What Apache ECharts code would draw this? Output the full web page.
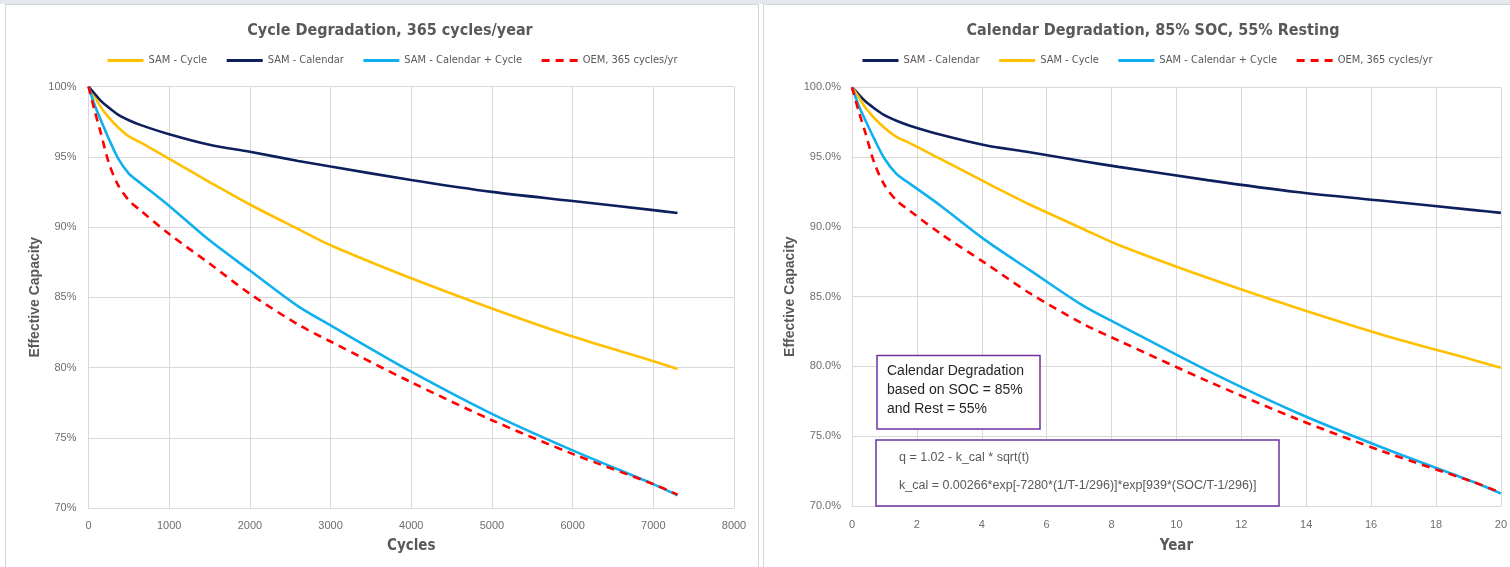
<!DOCTYPE html>
<html>
<head>
<meta charset="utf-8">
<script src="https://cdn.jsdelivr.net/npm/echarts@6/dist/echarts.min.js"></script>
<style>
  html, body { margin: 0; padding: 0; background: #ffffff; }
  #chart { width: 1510px; height: 567px; }
</style>
</head>
<body>
<div id="chart"></div>
<script>
// ---- data ----
const CYCLES_PER_YEAR = 365;
const cycles = [0, 75, 150, 250, 365, 500, 650, 1000, 1500, 2000, 2600, 3000, 4000, 5000, 6000, 7000, 7300];
const samCalendar = [100, 99.5, 99.0, 98.5, 98.0, 97.6, 97.25, 96.6, 95.85, 95.35, 94.7, 94.3, 93.35, 92.5, 91.85, 91.2, 91.0];
const samCycle = [100, 99.3, 98.55, 97.8, 97.1, 96.45, 96.0, 94.85, 93.2, 91.6, 89.85, 88.7, 86.35, 84.2, 82.2, 80.45, 79.9];
const samCalCycle = [100, 98.7, 97.65, 96.3, 94.9, 93.8, 93.1, 91.5, 89.05, 86.9, 84.35, 83.0, 79.7, 76.7, 74.1, 71.7, 70.9];
const oem = [100, 98.3, 96.75, 94.6, 93.0, 91.9, 91.15, 89.5, 87.4, 85.25, 83.05, 81.85, 78.95, 76.25, 73.85, 71.7, 70.95];
const yTicks = { min: 70, max: 100, step: 5 };
const xTicksCycles = { min: 0, max: 8000, step: 1000 };
const xTicksYears = { min: 0, max: 20, step: 2 };

const names = {
  cal: 'SAM - Calendar',
  cyc: 'SAM - Cycle',
  both: 'SAM - Calendar + Cycle',
  oem: 'OEM, 365 cycles/yr'
};
const colors = { cal: '#0d1f5c', cyc: '#ffc000', both: '#10b0ee', oem: '#ff0000' };

const NARROW = '"Liberation Sans Narrow", "Arial Narrow", "DejaVu Sans Condensed", sans-serif';
const SANS = '"Liberation Sans", Arial, sans-serif';

function pairs(xs, ys) { return xs.map((x, i) => [x, ys[i]]); }
const years = cycles.map(c => c / CYCLES_PER_YEAR);

function mkSeries(key, xs, ys, gi) {
  return {
    name: names[key], type: 'line', xAxisIndex: gi, yAxisIndex: gi,
    data: pairs(xs, ys), showSymbol: false, symbol: 'none',
    smooth: 0.3,
    lineStyle: { color: colors[key], width: 2.6, type: key === 'oem' ? [8, 6] : 'solid' },
    itemStyle: { color: colors[key] },
    z: key === 'oem' ? 5 : 3
  };
}

const axisLabelStyle = { color: '#6e6e6e', fontSize: 11, fontFamily: SANS };
const gridLine = { show: true, lineStyle: { color: '#d9d9d9', width: 1 } };
const legendCommon = {
  top: 55, padding: 0, itemWidth: 36, itemHeight: 10, itemGap: 18,
  itemStyle: { opacity: 0 }, lineStyle: { width: 3 },
  textStyle: { color: '#595959', fontSize: 11, fontFamily: NARROW }, selectedMode: false
};

const chart = echarts.init(document.getElementById('chart'), null, { renderer: 'canvas' });
chart.setOption({
  animation: false,
  backgroundColor: '#ffffff',
  title: [
    { text: 'Cycle Degradation, 365 cycles/year', left: 385, top: 18, textAlign: 'center',
      textStyle: { color: '#595959', fontSize: 16, fontWeight: 'bold', fontFamily: NARROW } },
    { text: 'Calendar Degradation, 85% SOC, 55% Resting', left: 1148, top: 18, textAlign: 'center',
      textStyle: { color: '#595959', fontSize: 16, fontWeight: 'bold', fontFamily: NARROW } }
  ],
  legend: [
    Object.assign({ left: 106, data: [names.cyc, names.cal, names.both, names.oem] }, legendCommon),
    Object.assign({ left: 861, data: [names.cal, names.cyc, names.both, names.oem] }, legendCommon)
  ],
  grid: [
    { left: 88.5, top: 86.5, width: 645.5, height: 421.5, containLabel: false },
    { left: 852, top: 87.3, width: 660, height: 418.7, containLabel: false }
  ],
  xAxis: [
    { type: 'value', gridIndex: 0, min: xTicksCycles.min, max: xTicksCycles.max, interval: xTicksCycles.step,
      name: 'Cycles', nameLocation: 'middle', nameGap: 31,
      nameTextStyle: { color: '#595959', fontSize: 15, fontWeight: 'bold', fontFamily: NARROW },
      axisLine: { show: true, lineStyle: { color: '#d9d9d9' } }, axisTick: { show: false },
      axisLabel: Object.assign({ margin: 12, formatter: v => String(v) }, axisLabelStyle), splitLine: gridLine },
    { type: 'value', gridIndex: 1, min: xTicksYears.min, max: xTicksYears.max, interval: xTicksYears.step,
      name: 'Year', nameLocation: 'middle', nameGap: 33,
      nameTextStyle: { color: '#595959', fontSize: 15, fontWeight: 'bold', fontFamily: NARROW },
      axisLine: { show: true, lineStyle: { color: '#d9d9d9' } }, axisTick: { show: false },
      axisLabel: Object.assign({ margin: 13, formatter: v => String(v) }, axisLabelStyle), splitLine: gridLine }
  ],
  yAxis: [
    { type: 'value', gridIndex: 0, min: yTicks.min, max: yTicks.max, interval: yTicks.step,
      name: 'Effective Capacity', nameLocation: 'middle', nameGap: 46, nameRotate: 90,
      nameTextStyle: { color: '#595959', fontSize: 14, fontWeight: 'bold', fontFamily: SANS },
      axisLine: { show: true, lineStyle: { color: '#d9d9d9' } }, axisTick: { show: false },
      axisLabel: Object.assign({ margin: 12, formatter: v => v + '%' }, axisLabelStyle), splitLine: gridLine },
    { type: 'value', gridIndex: 1, min: yTicks.min, max: yTicks.max, interval: yTicks.step,
      name: 'Effective Capacity', nameLocation: 'middle', nameGap: 55, nameRotate: 90,
      nameTextStyle: { color: '#595959', fontSize: 14, fontWeight: 'bold', fontFamily: SANS },
      axisLabel: Object.assign({ margin: 11, formatter: v => v.toFixed(1) + '%' }, axisLabelStyle),
      axisLine: { show: true, lineStyle: { color: '#d9d9d9' } }, axisTick: { show: false },
      splitLine: gridLine }
  ],
  series: [
    mkSeries('cyc', cycles, samCycle, 0),
    mkSeries('cal', cycles, samCalendar, 0),
    mkSeries('both', cycles, samCalCycle, 0),
    mkSeries('oem', cycles, oem, 0),
    mkSeries('cal', years, samCalendar, 1),
    mkSeries('cyc', years, samCycle, 1),
    mkSeries('both', years, samCalCycle, 1),
    mkSeries('oem', years, oem, 1)
  ],
  graphic: [
    { type: 'rect', shape: { x: 0, y: 0, width: 1510, height: 4 }, style: { fill: '#e4e7ee' }, silent: true, z: 0 },
    { type: 'rect', shape: { x: 5.5, y: 4.5, width: 753, height: 600 }, style: { fill: 'none', stroke: '#d4d4d4', lineWidth: 1 }, silent: true, z: 0 },
    { type: 'rect', shape: { x: 763.5, y: 4.5, width: 760, height: 600 }, style: { fill: 'none', stroke: '#d4d4d4', lineWidth: 1 }, silent: true, z: 0 },
    // annotation box 1
    { type: 'rect', z: 100, shape: { x: 877, y: 355.5, width: 163, height: 73.5 },
      style: { fill: '#ffffff', stroke: '#7030a0', lineWidth: 1.5 } },
    { type: 'text', z: 101, left: 887, top: 362,
      style: { text: 'Calendar Degradation\nbased on SOC = 85%\nand Rest = 55%', fill: '#262626',
        font: '14px ' + SANS, lineHeight: 19 } },
    // annotation box 2
    { type: 'rect', z: 100, shape: { x: 876, y: 440, width: 403, height: 66 },
      style: { fill: '#ffffff', stroke: '#7030a0', lineWidth: 1.5 } },
    { type: 'text', z: 101, left: 899, top: 451,
      style: { text: 'q = 1.02 - k_cal * sqrt(t)', fill: '#595959', font: '12.5px ' + SANS } },
    { type: 'text', z: 101, left: 899, top: 479,
      style: { text: 'k_cal = 0.00266*exp[-7280*(1/T-1/296)]*exp[939*(SOC/T-1/296)]', fill: '#595959', font: '12.5px ' + SANS } }
  ]
});
</script>
</body>
</html>
